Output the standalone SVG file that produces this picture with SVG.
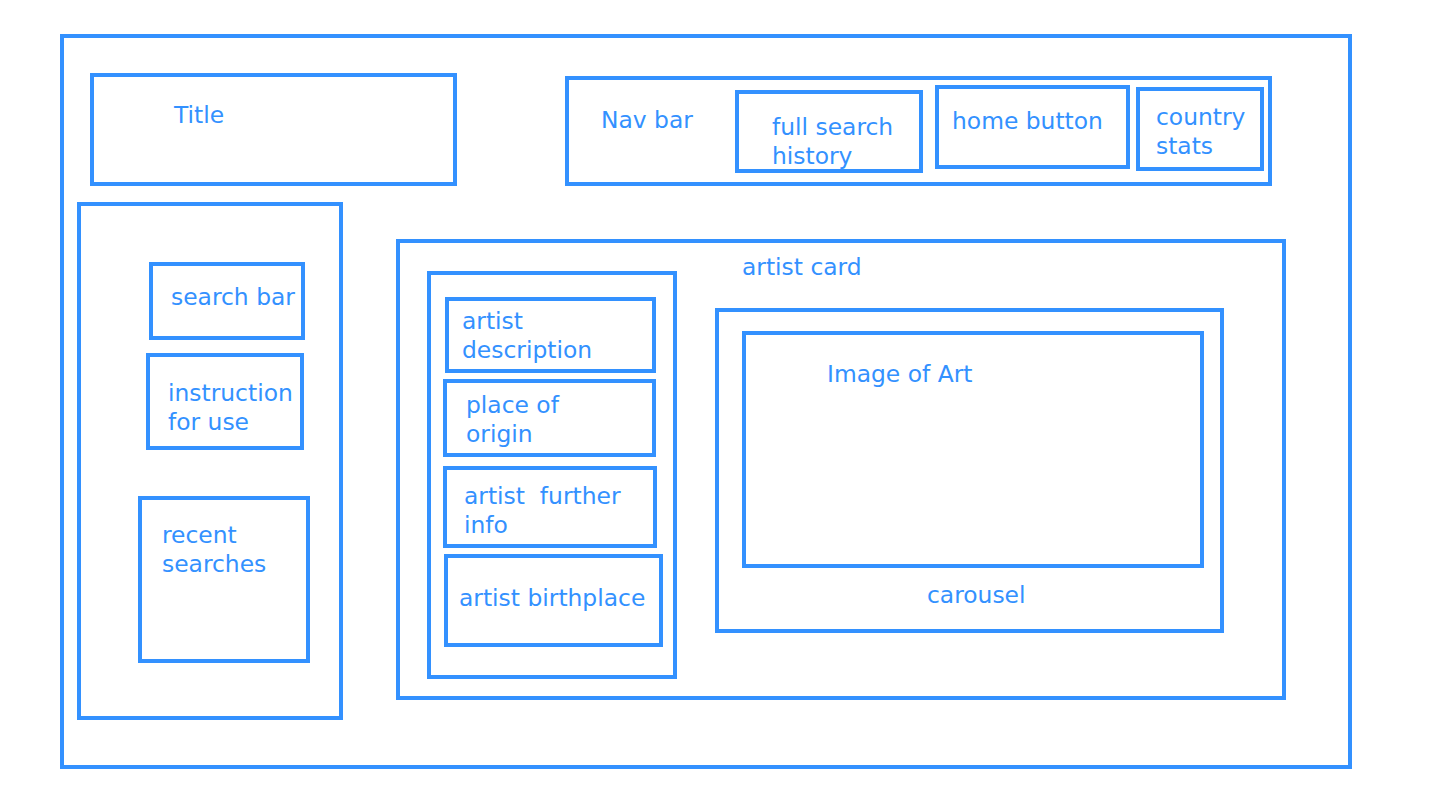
<svg xmlns="http://www.w3.org/2000/svg" width="1440" height="810" viewBox="0 0 1440 810">
<style>
rect{fill:none;stroke:#3391ff;stroke-width:4}
text{font-family:"DejaVu Sans",Verdana,sans-serif;font-size:23.4px;fill:#3391ff;white-space:pre}
</style>
<rect x="0" y="0" width="1440" height="810" style="fill:#fff;stroke:none"/>
<g id="page"><rect x="62" y="36" width="1288" height="731"/></g>
<g id="title"><rect x="92" y="75" width="363" height="109"/><text x="174" y="123">Title</text></g>
<g id="navbar"><rect x="567" y="78" width="703" height="106"/><text x="601" y="128">Nav bar</text></g>
<g id="full-search-history"><rect x="737" y="92" width="184" height="79"/><text x="772" y="135">full search</text><text x="772" y="164">history</text></g>
<g id="home-button"><rect x="937" y="87" width="191" height="80"/><text x="952" y="129">home button</text></g>
<g id="country-stats"><rect x="1138" y="89" width="124" height="80"/><text x="1156" y="125">country</text><text x="1156" y="154">stats</text></g>
<g id="sidebar"><rect x="79" y="204" width="262" height="514"/></g>
<g id="search-bar"><rect x="151" y="264" width="152" height="74"/><text x="171" y="305">search bar</text></g>
<g id="instruction"><rect x="148" y="355" width="154" height="93"/><text x="168" y="401">instruction</text><text x="168" y="430">for use</text></g>
<g id="recent-searches"><rect x="140" y="498" width="168" height="163"/><text x="162" y="543">recent</text><text x="162" y="572">searches</text></g>
<g id="artist-card"><rect x="398" y="241" width="886" height="457"/><text x="742" y="275">artist card</text></g>
<g id="artist-column"><rect x="429" y="273" width="246" height="404"/></g>
<g id="artist-description"><rect x="447" y="299" width="207" height="72"/><text x="462" y="329">artist</text><text x="462" y="358">description</text></g>
<g id="place-of-origin"><rect x="445" y="381" width="209" height="74"/><text x="466" y="413">place of</text><text x="466" y="442">origin</text></g>
<g id="artist-further-info"><rect x="445" y="468" width="210" height="78"/><text x="464" y="504">artist  further</text><text x="464" y="533">info</text></g>
<g id="artist-birthplace"><rect x="446" y="556" width="215" height="89"/><text x="459" y="606">artist birthplace</text></g>
<g id="carousel"><rect x="717" y="310" width="505" height="321"/><text x="927" y="603">carousel</text></g>
<g id="image-of-art"><rect x="744" y="333" width="458" height="233"/><text x="827" y="382">Image of Art</text></g>
<g id="connectors"></g>
</svg>
